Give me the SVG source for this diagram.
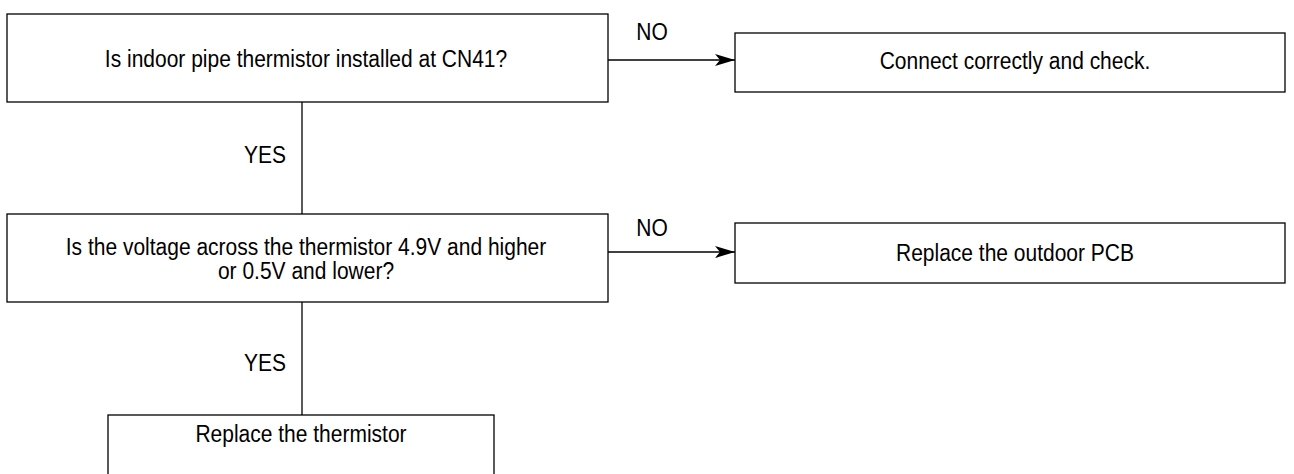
<svg xmlns="http://www.w3.org/2000/svg" width="1294" height="474" viewBox="0 0 1294 474">
<defs>
<style>
.box{fill:#fff;stroke:#000;stroke-width:1.3}
.t{font-family:"Liberation Sans",Arial,sans-serif;font-size:21px;fill:#000;text-anchor:middle}
.c{stroke:#000;stroke-width:1.3;fill:none}
</style>
<marker id="arr" markerWidth="20" markerHeight="12" refX="20" refY="6" orient="auto" markerUnits="userSpaceOnUse">
<path d="M0,0 L20,6 L0,12 L5,6 Z" fill="#000"/>
</marker>
</defs>
<rect width="1294" height="474" fill="#fff"/>
<g id="connectors">
<line class="c" x1="608" y1="60" x2="735" y2="60" marker-end="url(#arr)"/>
<line class="c" x1="302" y1="102" x2="302" y2="214"/>
<line class="c" x1="608" y1="252" x2="735" y2="252" marker-end="url(#arr)"/>
<line class="c" x1="302" y1="302" x2="302" y2="415"/>
<text class="t" transform="translate(652,40) scale(1,1.15)">NO</text>
<text class="t" transform="translate(265,163) scale(1,1.15)">YES</text>
<text class="t" transform="translate(652,236) scale(1,1.15)">NO</text>
<text class="t" transform="translate(265,371) scale(1,1.15)">YES</text>
</g>
<g id="n1">
<rect class="box" x="7" y="14" width="601" height="88"/>
<text class="t" transform="translate(306,67) scale(1,1.15)">Is indoor pipe thermistor installed at CN41?</text>
</g>
<g id="n2">
<rect class="box" x="735" y="33" width="550" height="59"/>
<text class="t" transform="translate(1015,69) scale(1,1.15)">Connect correctly and check.</text>
</g>
<g id="n3">
<rect class="box" x="7" y="214" width="601" height="88"/>
<text class="t" transform="translate(306,255) scale(1,1.15)">Is the voltage across the thermistor 4.9V and higher</text>
<text class="t" transform="translate(306,279) scale(1,1.15)">or 0.5V and lower?</text>
</g>
<g id="n4">
<rect class="box" x="735" y="223" width="550" height="60"/>
<text class="t" transform="translate(1015,261) scale(1,1.15)">Replace the outdoor PCB</text>
</g>
<g id="n5">
<rect class="box" x="108" y="415" width="386" height="70"/>
<text class="t" transform="translate(301,442) scale(1,1.15)">Replace the thermistor</text>
</g>
</svg>
